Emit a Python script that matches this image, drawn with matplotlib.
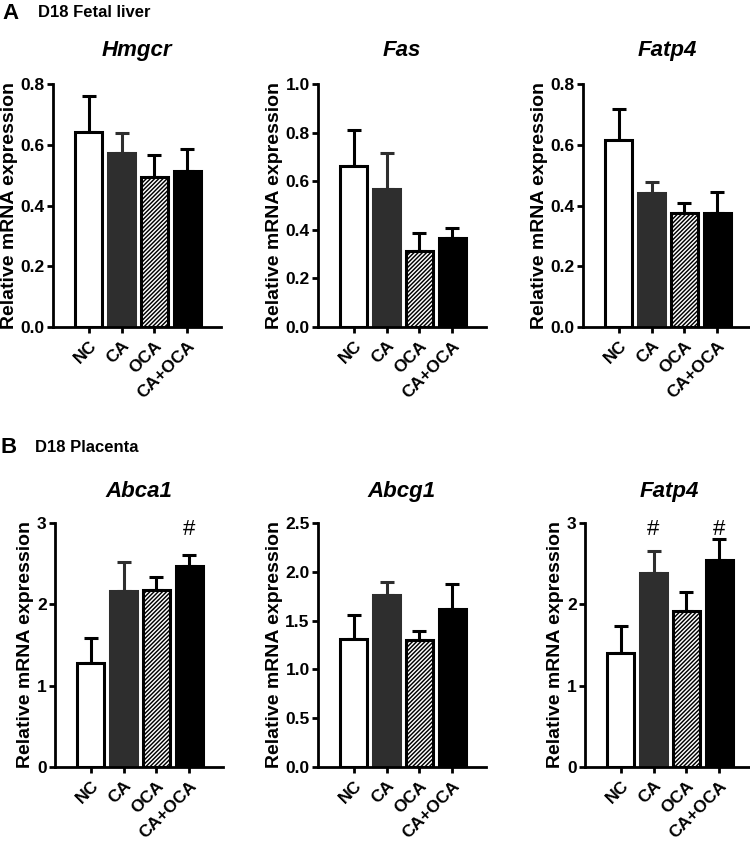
import matplotlib
matplotlib.use('Agg')
import matplotlib.pyplot as plt
from matplotlib.ticker import FormatStrFormatter

plt.rcParams['font.family'] = ['Liberation Sans', 'DejaVu Sans']
plt.rcParams['font.weight'] = 'bold'
plt.rcParams['hatch.linewidth'] = 1.05

# ---------------- data ----------------
groups = ['NC', 'CA', 'OCA', 'CA+OCA']

hmgcr_mean = [0.643, 0.572, 0.493, 0.514]
hmgcr_err = [0.116, 0.068, 0.074, 0.073]

fas_mean = [0.664, 0.567, 0.314, 0.367]
fas_err = [0.148, 0.148, 0.071, 0.042]

fatp4_liver_mean = [0.616, 0.440, 0.374, 0.374]
fatp4_liver_err = [0.103, 0.039, 0.033, 0.069]

abca1_mean = [1.28, 2.16, 2.18, 2.47]
abca1_err = [0.31, 0.36, 0.16, 0.14]
abca1_sig = ['', '', '', '#']

abcg1_mean = [1.31, 1.76, 1.30, 1.62]
abcg1_err = [0.25, 0.14, 0.09, 0.26]
abcg1_sig = ['', '', '', '']

fatp4_plac_mean = [1.40, 2.38, 1.92, 2.54]
fatp4_plac_err = [0.33, 0.28, 0.23, 0.26]
fatp4_plac_sig = ['', '#', '', '#']

# ---------------- style ----------------
fills = ['white', '#2e2e2e', 'white', 'black']
edges = ['black', '#2e2e2e', 'black', 'black']
hatches = ['', '', '////////', '']

W, H = 750, 842
fig = plt.figure(figsize=(7.5, 8.42), dpi=100)


def add_ax(left_px, top_px, w_px, h_px):
    return fig.add_axes([left_px / W, 1 - (top_px + h_px) / H, w_px / W, h_px / H])


def panel(ax, title, means, errs, ymax, ystep, fmt, sig=None, sig_y=None, title_pad=20):
    x = list(range(len(groups)))
    bars = ax.bar(x, means, width=0.82, color=fills, edgecolor=edges,
                  linewidth=2.2, zorder=2)
    for b, h in zip(bars, hatches):
        if h:
            b.set_hatch(h)
    for i in x:
        ax.errorbar(i, means[i], yerr=[[0], [errs[i]]], fmt='none',
                    ecolor=edges[i], elinewidth=2.2, capsize=4.7,
                    capthick=2.2, zorder=1)
    if sig:
        for i, s in enumerate(sig):
            if s:
                ax.text(i, sig_y, s, ha='center', va='center', fontsize=16,
                        fontweight='normal', clip_on=False)
    ax.set_xlim(-1.08, 4.02)
    ax.set_ylim(0, ymax)
    n = int(round(ymax / ystep))
    ax.set_yticks([ystep * k for k in range(n + 1)])
    ax.yaxis.set_major_formatter(FormatStrFormatter(fmt))
    ax.set_xticks(x)
    ax.set_xticklabels(groups, rotation=45, ha='right', rotation_mode='anchor',
                       fontsize=12.5, fontweight='bold')
    for s in ['top', 'right']:
        ax.spines[s].set_visible(False)
    for s in ['left', 'bottom']:
        ax.spines[s].set_linewidth(2)
    ax.tick_params(axis='both', direction='out', length=4.5, width=2,
                   labelsize=12.5, pad=1.5)
    ax.tick_params(axis='x', pad=3.5)
    for lab in ax.get_yticklabels():
        lab.set_fontweight('bold')
    ax.set_ylabel('Relative mRNA expression', fontsize=14, fontweight='bold',
                  labelpad=2)
    ax.set_title(title, fontsize=16, fontweight='bold', fontstyle='italic',
                 pad=title_pad)


axw = 168
a1 = add_ax(53, 84, axw, 243)
a2 = add_ax(318, 84, axw, 243)
a3 = add_ax(583, 84, axw, 243)
b1 = add_ax(55, 523, axw, 244)
b2 = add_ax(318, 523, axw, 244)
b3 = add_ax(585, 523, axw, 244)

panel(a1, 'Hmgcr', hmgcr_mean, hmgcr_err, 0.8, 0.2, '%.1f')
panel(a2, 'Fas', fas_mean, fas_err, 1.0, 0.2, '%.1f')
panel(a3, 'Fatp4', fatp4_liver_mean, fatp4_liver_err, 0.8, 0.2, '%.1f')
panel(b1, 'Abca1', abca1_mean, abca1_err, 3, 1, '%d', abca1_sig, 2.92, title_pad=19)
panel(b2, 'Abcg1', abcg1_mean, abcg1_err, 2.5, 0.5, '%.1f', abcg1_sig, 2.4, title_pad=19)
panel(b3, 'Fatp4', fatp4_plac_mean, fatp4_plac_err, 3, 1, '%d', fatp4_plac_sig, 2.92, title_pad=19)

fig.text(2 / W, 1 - 19 / H, 'A', fontsize=16, fontweight='bold', va='baseline')
fig.text(38 / W, 1 - 17 / H, 'D18 Fetal liver', fontsize=12, fontweight='bold', va='baseline')
fig.text(0 / W, 1 - 453 / H, 'B', fontsize=16, fontweight='bold', va='baseline')
fig.text(35 / W, 1 - 452 / H, 'D18 Placenta', fontsize=12, fontweight='bold', va='baseline')

fig.savefig('out.png', dpi=100, facecolor='white')
